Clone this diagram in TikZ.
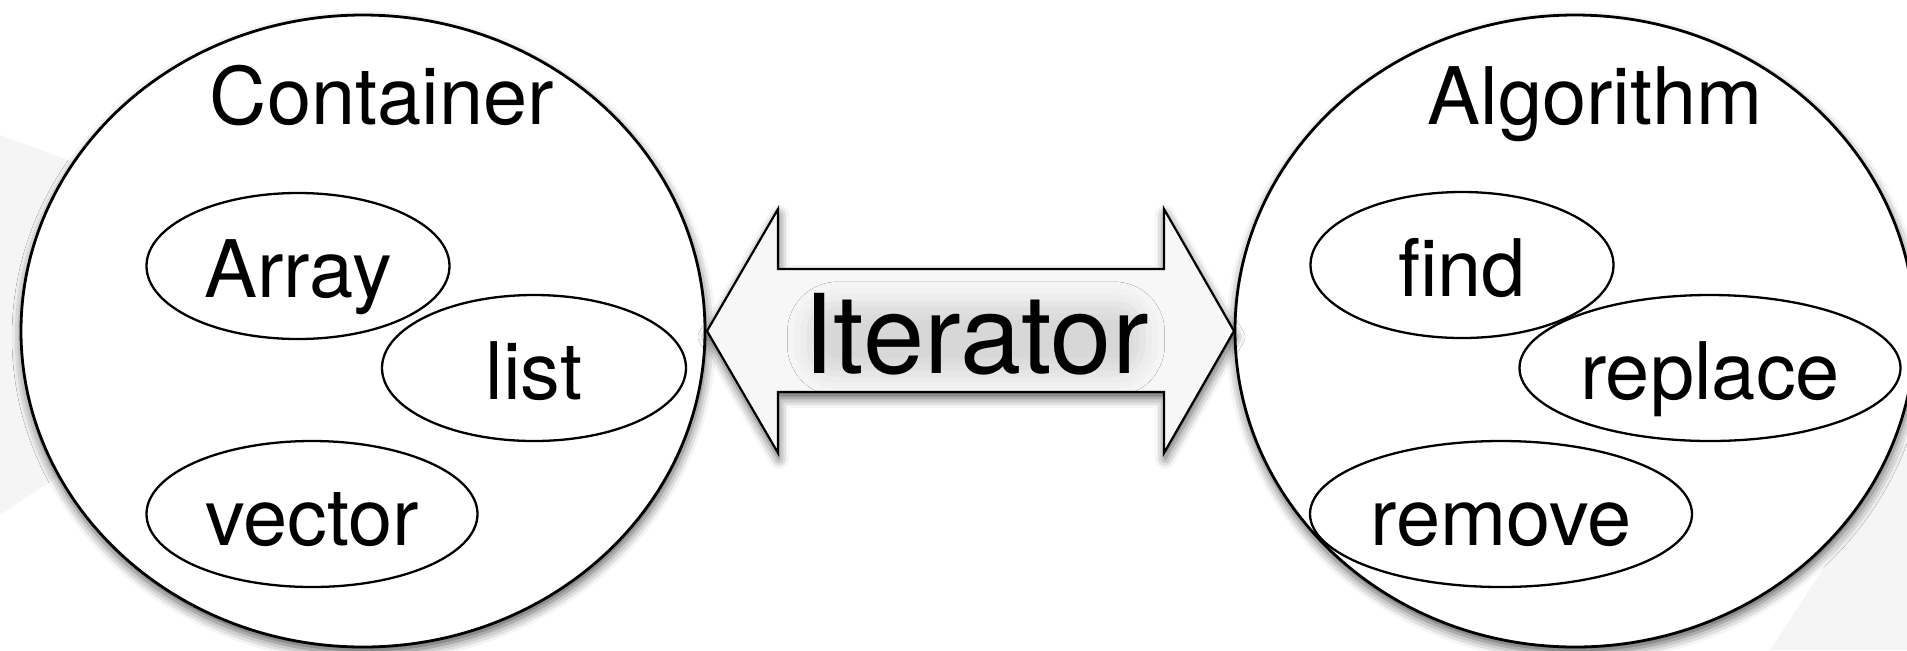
\documentclass[tikz,border=0pt]{standalone}
\usepackage{fontspec}
\setmainfont{TeX Gyre Heros}
\usetikzlibrary{shapes.geometric,shadows.blur}
\begin{document}
\begin{tikzpicture}[x=0.5pt,y=-0.5pt,
  shd/.style={blur shadow={shadow xshift=0.5pt, shadow yshift=-3pt, shadow blur radius=5pt, shadow opacity=65}},
  big/.style={ellipse, draw, line width=1.4pt, fill=white, inner sep=0pt, shd},
  item/.style={ellipse, draw, line width=1.15pt, inner sep=0pt, text height=31pt, text depth=0pt, font=\fontsize{39.7}{45}\selectfont},
  title/.style={anchor=base, inner sep=0pt, font=\fontsize{39.7}{45}\selectfont},
  itertext/.style={anchor=base, inner sep=0pt, font=\fontsize{55}{62}\selectfont},
  arrowbox/.style={draw, line width=1.1pt, fill=black!3, line join=miter, shd}
]
\useasboundingbox (0,0) rectangle (1907,650);
% faint background shapes
\fill[black!4] (0,135) -- (90,168) -- (90,455) -- (0,515) -- cycle;
\fill[black!4] (1770,650) -- (1907,440) -- (1907,650) -- cycle;

% big containers
\node[big, minimum width=342pt, minimum height=316pt] (cont) at (363,331) {};
\node[big, minimum width=340pt, minimum height=316pt] (algo) at (1575,331) {};

% double arrow
\draw[arrowbox] (707,331) -- (778,209) -- (778,269) -- (1164,269) -- (1164,209) -- (1234,331)
  -- (1164,453) -- (1164,392) -- (778,392) -- (778,453) -- cycle;

% Iterator with soft shadow
\node[itertext, inner sep=-3pt, rounded corners=14pt,
  blur shadow={shadow xshift=0pt, shadow yshift=-2.5pt, shadow blur radius=11pt, shadow opacity=13}]
  (iter) at (976,373) {Iterator};

% titles
\node[title] (conttitle) at (382,124) {Container};
\node[title] (algotitle) at (1595,124) {Algorithm};

% items
\node[item, minimum width=151.5pt, minimum height=73pt] (array) at (298,266) {Array};
\node[item, minimum width=152pt, minimum height=73pt] (list) at (534,368) {list};
\node[item, minimum width=165.5pt, minimum height=73pt] (vector) at (312,514) {vector};
\node[item, minimum width=151.5pt, minimum height=73pt] (find) at (1462,265) {find};
\node[item, minimum width=190.5pt, minimum height=73pt] (replace) at (1710,368) {replace};
\node[item, minimum width=191pt, minimum height=73pt] (remove) at (1501,514) {remove};
\end{tikzpicture}
\end{document}
